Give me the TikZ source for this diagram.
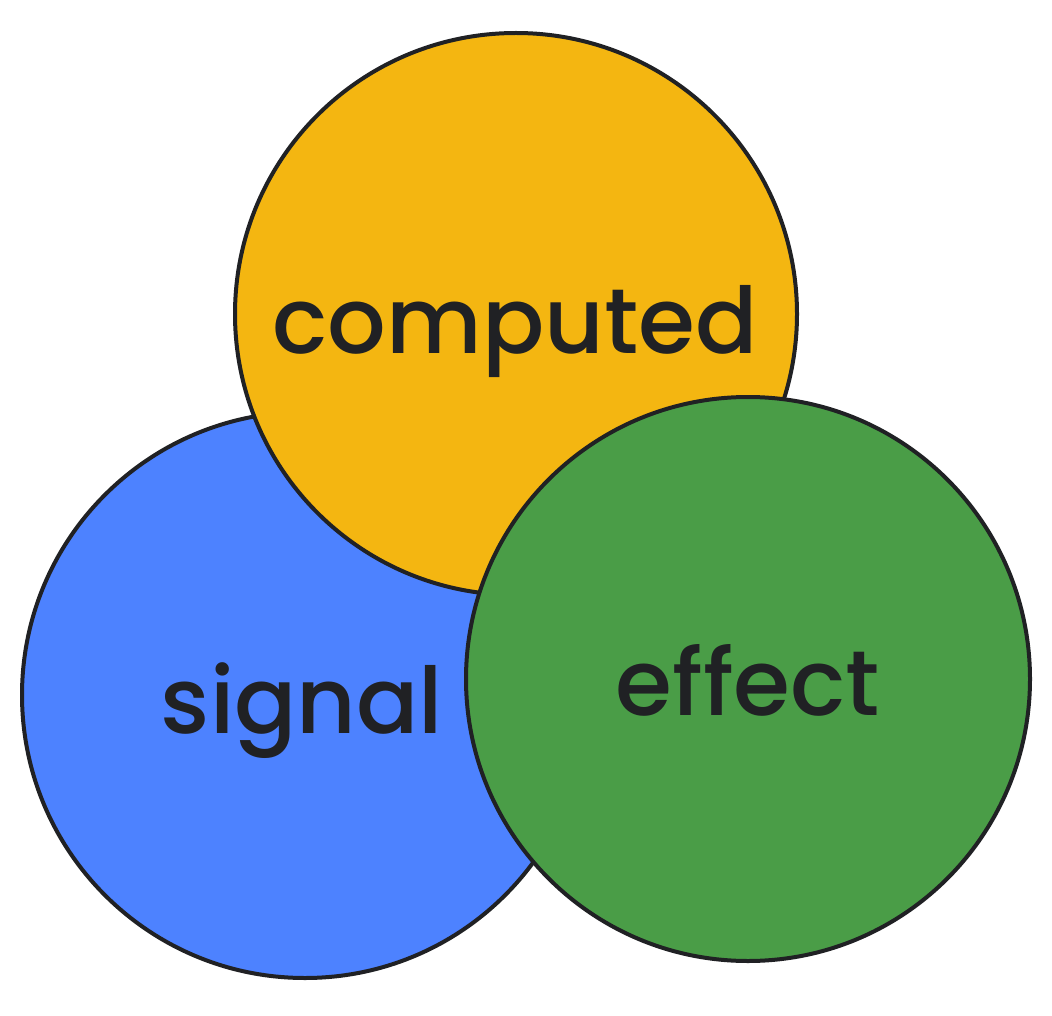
\documentclass[tikz,border=0pt]{standalone}
\usepackage{fontspec}
\newfontfamily\wordfont{Poppins Medium}
\definecolor{cyellow}{HTML}{F4B611}
\definecolor{cblue}{HTML}{4D82FF}
\definecolor{cgreen}{HTML}{4A9D47}
\definecolor{ctext}{HTML}{202124}
\definecolor{cline}{HTML}{202124}
\begin{document}
\begin{tikzpicture}[x=1pt,y=-1pt,
  ring/.style={draw=cline,line width=4pt},
  word/.style={anchor=base,text=ctext,inner sep=0pt,font=\wordfont\fontsize{92}{96}\selectfont}]
\useasboundingbox (0,0) rectangle (1052,1016);
\fill[white] (0,0) rectangle (1052,1016);
\draw[ring,fill=cblue] (305,695) circle[radius=283];
\draw[ring,fill=cyellow] (516,314) circle[radius=281];
\draw[ring,fill=cgreen] (748,679) circle[radius=282];
\node[word] (computed) at (515,353) {computed};
\node[word] (signal) at (302,733) {signal};
\node[word] (effect) at (748,715) {effect};
\end{tikzpicture}
\end{document}
